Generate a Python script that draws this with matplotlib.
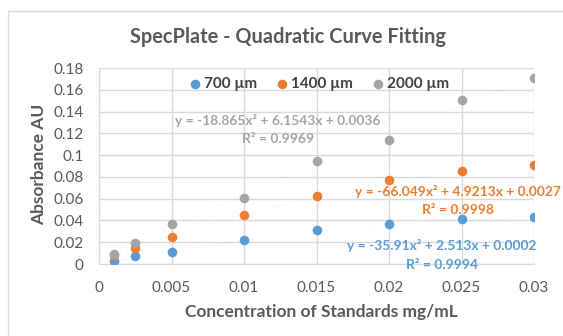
import matplotlib
matplotlib.use("Agg")
import matplotlib.pyplot as plt
import numpy as np
from matplotlib.patches import Rectangle

plt.rcParams['font.family'] = ['Lato', 'DejaVu Sans']

conc = [0.001, 0.0025, 0.005, 0.01, 0.015, 0.02, 0.025, 0.03]
abs_700 = [0.003, 0.007, 0.011, 0.022, 0.031, 0.037, 0.041, 0.043]
abs_1400 = [0.008, 0.015, 0.025, 0.045, 0.062, 0.077, 0.085, 0.091]
abs_2000 = [0.009, 0.019, 0.037, 0.061, 0.095, 0.114, 0.151, 0.171]
series_labels = ["700 µm", "1400 µm", "2000 µm"]
eq_700 = ["y = -35.91x² + 2.513x + 0.0002", "R² = 0.9994"]
eq_1400 = ["y = -66.049x² + 4.9213x + 0.0027", "R² = 0.9998"]
eq_2000 = ["y = -18.865x² + 6.1543x + 0.0036", "R² = 0.9969"]
coef_700 = [-35.91, 2.513, 0.0002]
coef_1400 = [-66.049, 4.9213, 0.0027]
coef_2000 = [-18.865, 6.1543, 0.0036]

colors = ["#5B9BD5", "#ED7D31", "#A5A5A5"]
W, H = 563, 336
fig = plt.figure(figsize=(W/100, H/100), dpi=100)
fig.patch.set_facecolor("white")
fig.patches.append(Rectangle((8/W, -0.1), 1.2, 1 - 11/H + 0.1, transform=fig.transFigure,
                             fill=False, edgecolor="#D9D9D9", linewidth=1))

ax = fig.add_axes([99/W, 1 - 264/H, (534 - 99)/W, (264 - 68)/H])
ax.set_xlim(0, 0.03)
ax.set_ylim(0, 0.18)
ax.set_xticks(np.arange(0, 0.0301, 0.005))
ax.set_yticks(np.arange(0, 0.1801, 0.02))
ax.set_xticklabels(["0", "0.005", "0.01", "0.015", "0.02", "0.025", "0.03"])
ax.set_yticklabels(["0", "0.02", "0.04", "0.06", "0.08", "0.1", "0.12", "0.14", "0.16", "0.18"])
ax.grid(True, color="#D9D9D9", linewidth=1)
ax.set_axisbelow(True)
for s in ["top", "right"]:
    ax.spines[s].set_visible(False)
for s in ["left", "bottom"]:
    ax.spines[s].set_color("#D9D9D9")
ax.tick_params(length=0, labelsize=11, colors="#595959")
ax.tick_params(axis='y', pad=11)
ax.tick_params(axis='x', pad=12)

xs = np.linspace(0.001, 0.03, 100)
for data, coef, col, lab in zip([abs_700, abs_1400, abs_2000], [coef_700, coef_1400, coef_2000], colors, series_labels):
    ax.plot(xs, np.polyval(coef, xs), linestyle=(0, (1, 4)), color=col, alpha=0.12, linewidth=1, zorder=2)
    ax.scatter(conc, data, s=48, color=col, label=lab, zorder=3, linewidths=0)

leg = fig.legend(*ax.get_legend_handles_labels(), loc="center", bbox_to_anchor=(319/W, 1 - 84/H), ncol=3,
                 frameon=False, fontsize=11, handlelength=0.8, handletextpad=0.2, columnspacing=1.25,
                 borderpad=0, borderaxespad=0)
for t in leg.get_texts():
    t.set_color("#404040")
    t.set_fontweight("bold")

def eqtext(x, y, lines, col):
    fig.text(x/W, 1 - y/H, lines[0], color=col, fontsize=9.9, fontweight="bold", ha="center", va="center")
    fig.text(x/W, 1 - (y + 19)/H, lines[1], color=col, fontsize=9.9, fontweight="bold", ha="center", va="center")

eqtext(278, 120, eq_2000, colors[2])
eqtext(458, 191, eq_1400, colors[1])
eqtext(442, 246, eq_700, colors[0])

fig.text(287.5/W, 1 - 37/H, "SpecPlate - Quadratic Curve Fitting", fontsize=14.4, fontweight="bold",
         color="#595959", ha="center", va="center")
fig.text(321/W, 1 - 312/H, "Concentration of Standards mg/mL", fontsize=12.5, fontweight="bold",
         color="#595959", ha="center", va="center")
fig.text(39/W, 1 - 164/H, "Absorbance AU", fontsize=12.5, fontweight="bold", rotation=90,
         color="#595959", ha="center", va="center")

fig.savefig("out.png", dpi=100)
